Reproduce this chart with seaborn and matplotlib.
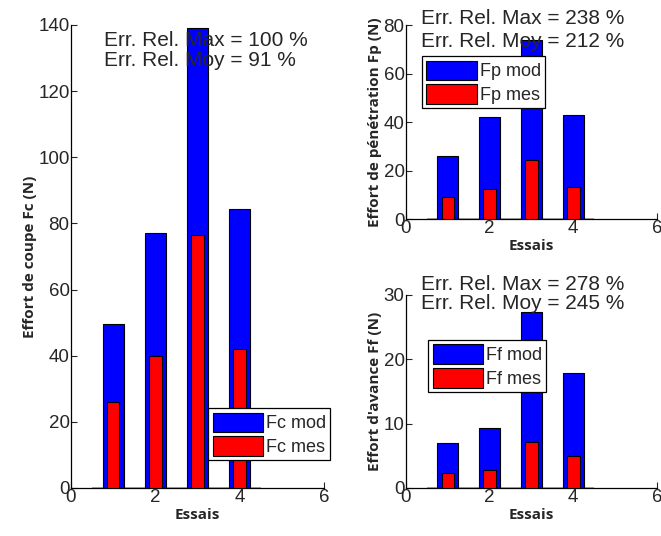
import pandas as pd
import matplotlib
matplotlib.use('Agg')
import matplotlib.pyplot as plt
import matplotlib.patches as mpatches
import seaborn as sns

# data
essais = [1, 2, 3, 4]
fc_mod = [49.5, 77.0, 139.0, 84.5]
fc_mes = [26.0, 40.0, 76.5, 42.0]
fp_mod = [26.0, 42.0, 74.0, 43.0]
fp_mes = [9.0, 12.5, 24.5, 13.0]
ff_mod = [7.0, 9.3, 27.3, 17.8]
ff_mes = [2.3, 2.8, 7.2, 5.0]
err_max = ['100', '238', '278']
err_moy = ['91', '212', '245']

sns.set_style('ticks')
plt.rcParams['font.family'] = ['Liberation Sans', 'DejaVu Sans']
plt.rcParams['xtick.direction'] = 'in'
plt.rcParams['ytick.direction'] = 'in'

fig = plt.figure(figsize=(6.61, 5.36), dpi=100)
ax1 = fig.add_axes([0.1074, 0.0896, 0.3828, 0.8638])
ax2 = fig.add_axes([0.6142, 0.5914, 0.3797, 0.3619])
ax3 = fig.add_axes([0.6142, 0.0896, 0.3797, 0.3601])

panels = [
    (ax1, fc_mod, fc_mes, 'Fc', 'Effort de coupe Fc (N)', 140, 20),
    (ax2, fp_mod, fp_mes, 'Fp', 'Effort de pénétration Fp (N)', 80, 20),
    (ax3, ff_mod, ff_mes, 'Ff', "Effort d'avance Ff (N)", 30, 10),
]

for ax, mod, mes, name, ylab, ymax, ystep in panels:
    df = pd.DataFrame({'essai': essais, 'mod': mod, 'mes': mes})
    ax.hlines(0, 0.5, 4.5, color='#999999', lw=1.2, zorder=1)
    sns.barplot(data=df, x='essai', y='mod', native_scale=True, width=0.5,
                color='#0000ff', saturation=1, edgecolor='black', linewidth=0.8,
                ax=ax, zorder=2)
    sns.barplot(data=df, x='essai', y='mes', native_scale=True, width=0.3,
                color='#ff0000', saturation=1, edgecolor='black', linewidth=0.8,
                ax=ax, zorder=3)
    ax.set_xlim(0, 6)
    ax.set_ylim(0, ymax)
    ax.set_xticks([0, 2, 4, 6])
    ax.set_xticklabels(['0', '2', '4', '6'])
    ax.set_yticks(range(0, ymax + 1, ystep))
    ax.tick_params(labelsize=13.5, length=4, width=0.8, pad=1)
    ax.set_xlabel('Essais', fontsize=11, fontweight='bold', family='Open Sans', labelpad=1)
    ax.set_ylabel(ylab, fontsize=11, fontweight='bold', family='Open Sans', labelpad=1)
    sns.despine(ax=ax)
    for s in ['left', 'bottom']:
        ax.spines[s].set_linewidth(0.9)
        ax.spines[s].set_color('black')
    ax.patch.set_alpha(0)

# legends
leg_pos = [(0.3147, 0.2388), (0.6384, 0.8955), (0.6475, 0.3657)]
for (ax, mod, mes, name, ylab, ymax, ystep), pos in zip(panels, leg_pos):
    h = [mpatches.Patch(facecolor='#0000ff', edgecolor='black', lw=0.8, label=name + ' mod'),
         mpatches.Patch(facecolor='#ff0000', edgecolor='black', lw=0.8, label=name + ' mes')]
    leg = ax.legend(handles=h, loc='upper left', bbox_to_anchor=pos,
                    bbox_transform=fig.transFigure, borderaxespad=0,
                    fancybox=False, framealpha=1, edgecolor='black', fontsize=13,
                    handlelength=2.8, handleheight=1.3, handletextpad=0.15,
                    labelspacing=0.2, borderpad=0.25)
    leg.get_frame().set_linewidth(0.9)
    leg.set_zorder(10)

# error annotations
txt_pos = [(0.158, 0.925, 0.888), (0.637, 0.965, 0.923), (0.637, 0.470, 0.434)]
for (x, y1, y2), emax, emoy in zip(txt_pos, err_max, err_moy):
    fig.text(x, y1, 'Err. Rel. Max = ' + emax + ' %', fontsize=15, va='center', zorder=20)
    fig.text(x, y2, 'Err. Rel. Moy = ' + emoy + ' %', fontsize=15, va='center', zorder=20)

fig.savefig('out.png', dpi=100)
